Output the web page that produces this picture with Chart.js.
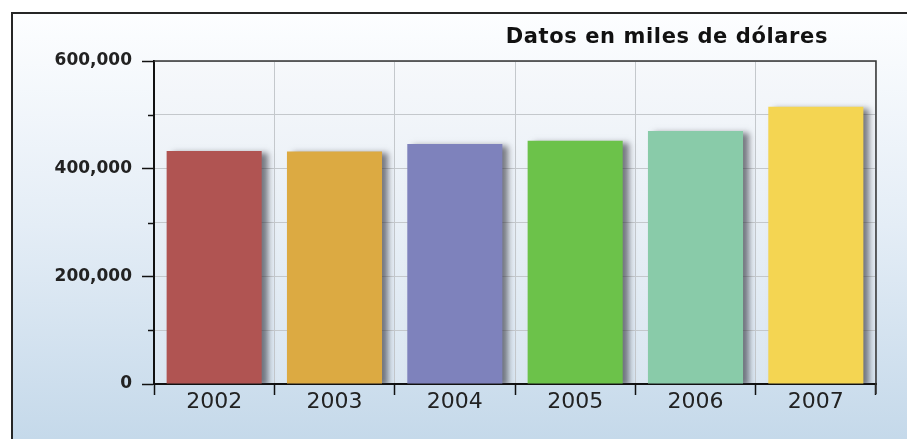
<!DOCTYPE html>
<html>
<head>
<meta charset="utf-8">
<script src="https://cdn.jsdelivr.net/npm/chart.js@4/dist/chart.umd.min.js"></script>
<style>
    html, body { margin: 0; padding: 0; background: #fff; }
    #chart { display: block; }
</style>
</head>
<body>
<canvas id="chart" width="907" height="439"></canvas>
<script>
// Chart data
const years = ['2002', '2003', '2004', '2005', '2006', '2007'];
const amounts = [433000, 432000, 446000, 452000, 470000, 515000];
const barColors = ['#b05452', '#dcaa42', '#7e82bc', '#6cc24a', '#89cba9', '#f4d552'];
const titleText = 'Datos en miles de dólares';
const yMax = 600000;
const yStep = 100000;

/**
 * Background gradient, outer frame and title
 */
const framePlugin = {
    id: 'frame',
    beforeDraw(chart) {
        const ctx = chart.ctx;
        const w = chart.width;
        const h = chart.height;
        const area = chart.chartArea;

        ctx.save();
        ctx.fillStyle = '#ffffff';
        ctx.fillRect(0, 0, w, h);

        // outer panel gradient
        const bg = ctx.createLinearGradient(0, 12, 0, h);
        bg.addColorStop(0, '#fdfeff');
        bg.addColorStop(0.5, '#e4edf6');
        bg.addColorStop(1, '#c5d9ea');
        ctx.fillStyle = bg;
        ctx.fillRect(11, 12, w - 11, h - 12);

        // plot area gradient
        const pg = ctx.createLinearGradient(0, area.top, 0, area.bottom);
        pg.addColorStop(0, '#f6f8fb');
        pg.addColorStop(1, '#dae6f1');
        ctx.fillStyle = pg;
        ctx.fillRect(area.left, area.top, area.right - area.left, area.bottom - area.top);

        // frame lines
        ctx.strokeStyle = '#262626';
        ctx.lineWidth = 2;
        ctx.beginPath();
        ctx.moveTo(12, h);
        ctx.lineTo(12, 13);
        ctx.lineTo(w, 13);
        ctx.stroke();

        // title
        ctx.fillStyle = '#111';
        ctx.font = 'bold 21px "DejaVu Sans"';
        ctx.letterSpacing = '0.6px';
        ctx.textAlign = 'right';
        ctx.textBaseline = 'alphabetic';
        ctx.fillText(titleText, 828, 43);
        ctx.letterSpacing = '0px';
        ctx.restore();
    },
    afterDraw(chart) {
        const ctx = chart.ctx;
        const area = chart.chartArea;
        const yScale = chart.scales.y;

        ctx.save();
        // top and right border of plot
        ctx.strokeStyle = '#333';
        ctx.lineWidth = 1.5;
        ctx.beginPath();
        ctx.moveTo(area.left, area.top);
        ctx.lineTo(area.right, area.top);
        ctx.lineTo(area.right, area.bottom + 10);
        ctx.stroke();

        // short minor ticks on the y axis
        ctx.strokeStyle = '#111';
        ctx.lineWidth = 1.5;
        yScale.ticks.forEach(t => {
            if (t.value % 200000 !== 0) {
                const y = Math.round(yScale.getPixelForValue(t.value)) + 0.5;
                ctx.beginPath();
                ctx.moveTo(area.left - 6, y);
                ctx.lineTo(area.left, y);
                ctx.stroke();
            }
        });
        ctx.restore();
    }
};

/**
 * Drop shadow behind the bars
 */
const shadowPlugin = {
    id: 'barShadow',
    beforeDatasetsDraw(chart) {
        const ctx = chart.ctx;
        ctx.save();
        ctx.shadowColor = 'rgba(40, 40, 50, 0.6)';
        ctx.shadowBlur = 6;
        ctx.shadowOffsetX = 6;
        ctx.shadowOffsetY = 2;
    },
    afterDatasetsDraw(chart) {
        chart.ctx.restore();
    }
};

new Chart(document.getElementById('chart'), {
    type: 'bar',
    data: {
        labels: years,
        datasets: [{
            data: amounts,
            backgroundColor: barColors,
            borderWidth: 0,
            categoryPercentage: 1.0,
            barPercentage: 0.79
        }]
    },
    options: {
        responsive: false,
        animation: false,
        devicePixelRatio: 1,
        layout: {
            padding: { top: 61, right: 31, left: 0, bottom: 0 }
        },
        plugins: {
            legend: { display: false },
            title: { display: false },
            tooltip: { enabled: false }
        },
        scales: {
            x: {
                afterFit: function(scale) { scale.height = 55; },
                grid: {
                    offset: true,
                    color: '#c4c8cc',
                    lineWidth: 1,
                    tickColor: '#111',
                    tickLength: 11,
                    tickWidth: 1.5
                },
                border: { color: '#111', width: 2 },
                ticks: {
                    color: '#222',
                    padding: -6,
                    font: { family: 'DejaVu Sans', size: 22 }
                }
            },
            y: {
                min: 0,
                max: yMax,
                afterFit: function(scale) { scale.width = 154; },
                grid: {
                    color: '#c4c8cc',
                    lineWidth: 1,
                    tickLength: 12,
                    tickWidth: 1.5,
                    tickColor: function(c) {
                        return c.tick && c.tick.value % 200000 === 0 ? '#111' : 'rgba(0,0,0,0)';
                    }
                },
                border: { color: '#111', width: 2 },
                ticks: {
                    stepSize: yStep,
                    color: '#222',
                    padding: 10,
                    font: { family: 'DejaVu Sans', size: 17, weight: 'bold' },
                    callback: function(value) {
                        return value % 200000 === 0 ? value.toLocaleString('en-US') : '';
                    }
                }
            }
        }
    },
    plugins: [framePlugin, shadowPlugin]
});
</script>
</body>
</html>
